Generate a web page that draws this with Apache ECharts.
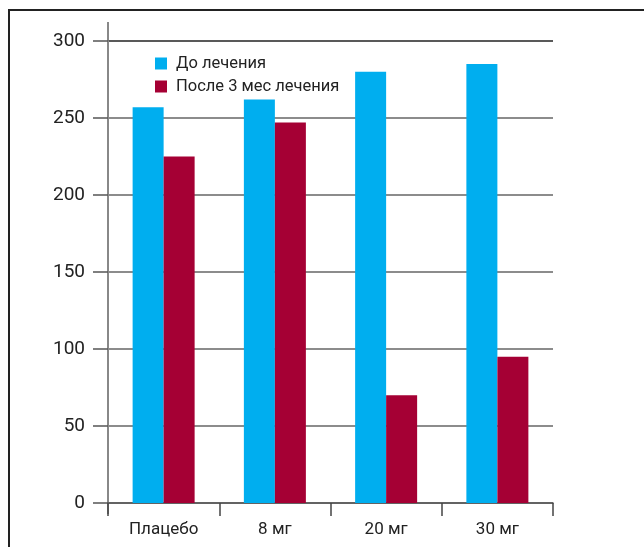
<!DOCTYPE html>
<html>
<head>
<meta charset="utf-8">
<script src="https://cdn.jsdelivr.net/npm/echarts@6/dist/echarts.min.js"></script>
<style>
html,body{margin:0;padding:0;background:#fff;}
#c{width:644px;height:547px;}
</style>
</head>
<body>
<div id="c"></div>
<script>
const categories = ['Плацебо', '8 мг', '20 мг', '30 мг'];
const seriesNames = ['До лечения', 'После 3 мес лечения'];
const beforeValues = [257, 262, 280, 285];
const afterValues = [225, 247, 70, 95];
const yTicks = [0, 50, 100, 150, 200, 250, 300];

const chart = echarts.init(document.getElementById('c'), null, {renderer: 'canvas'});
const font = 'Roboto, "Noto Sans", sans-serif';
chart.setOption({
  animation: false,
  backgroundColor: '#fff',
  textStyle: {fontFamily: font},
  grid: {left: 108, right: 91, top: 41, bottom: 44, containLabel: false},
  legend: {
    orient: 'vertical',
    left: 150,
    top: 50,
    itemWidth: 12,
    itemHeight: 12,
    itemGap: 6,
    icon: 'rect',
    textStyle: {fontSize: 16.5, color: '#222', fontFamily: font, padding: [0, 0, 0, 4]},
    data: seriesNames
  },
  xAxis: {
    type: 'category',
    data: categories,
    axisLine: {lineStyle: {color: '#555', width: 1.5}},
    axisTick: {show: true, alignWithLabel: false, length: 13, lineStyle: {color: '#444', width: 1.5}},
    axisLabel: {margin: 18, fontSize: 17, color: '#222', fontFamily: font},
    splitLine: {show: false}
  },
  yAxis: {
    type: 'value',
    min: yTicks[0],
    max: yTicks[yTicks.length - 1],
    interval: yTicks[1] - yTicks[0],
    axisLine: {show: true, lineStyle: {color: '#888', width: 2}},
    axisTick: {show: true, length: 15, lineStyle: {color: '#555', width: 1.5}},
    axisLabel: {margin: 23, fontSize: 19, color: '#222', fontFamily: font},
    splitLine: {show: true, lineStyle: {color: ['#666', '#666', '#666', '#666', '#666', '#666', '#222'], width: 1.5}}
  },
  series: [
    {name: seriesNames[0], type: 'bar', data: beforeValues, barWidth: 31, barGap: '0%', itemStyle: {color: '#00AEEF'}},
    {name: seriesNames[1], type: 'bar', data: afterValues, barWidth: 31, barGap: '0%', itemStyle: {color: '#A50034'}}
  ],
  graphic: [
    {type: 'polyline', shape: {points: [[9, 547], [9, 10], [644, 10]]}, style: {stroke: '#222', lineWidth: 2, fill: null}, silent: true},
    {type: 'line', shape: {x1: 108, y1: 22, x2: 108, y2: 41}, style: {stroke: '#888', lineWidth: 2}, silent: true},
    {type: 'line', shape: {x1: 108, y1: 503, x2: 108, y2: 514}, style: {stroke: '#888', lineWidth: 2}, silent: true}
  ]
});
</script>
</body>
</html>
